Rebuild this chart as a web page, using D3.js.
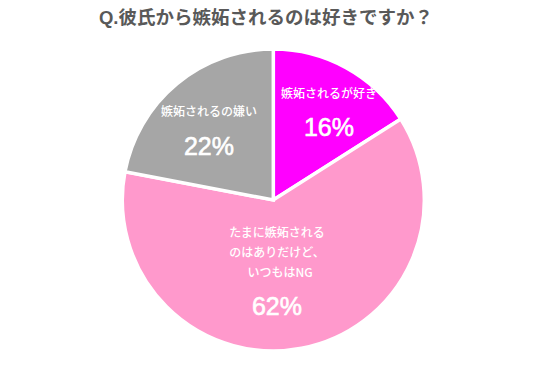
<!DOCTYPE html>
<html><head><meta charset="utf-8">
<script src="https://cdn.jsdelivr.net/npm/d3@7"></script>
<style>body{margin:0;background:#fff;}svg{display:block;font-family:"Noto Sans CJK JP","Noto Sans",sans-serif;}</style>
</head><body>
<svg id="c" width="555" height="382"></svg>
<script>
const title = "Q.彼氏から嫉妬されるのは好きですか？";
const categories = ["嫉妬されるが好き", "たまに嫉妬される|のはありだけど、| いつもはNG", "嫉妬されるの嫌い"];
const values = [16, 62, 22];
const colors = ["#FF00FF", "#FF99CC", "#A6A6A6"];

const svg = d3.select("#c");
const cx = 273.3, cy = 200, R = 151;

svg.append("text").attr("x", 266).attr("y", 24).attr("text-anchor", "middle")
  .style("font-family", '"Liberation Sans","Noto Sans CJK JP",sans-serif')
  .attr("font-size", 18.5).attr("font-weight", "bold").attr("fill", "#595959").text(title);

const pie = d3.pie().sort(null).value(d => d)(values);
const arc = d3.arc().innerRadius(0).outerRadius(R);
const g = svg.append("g").attr("transform", `translate(${cx},${cy})`);
g.selectAll("path").data(pie).join("path")
  .attr("d", arc).attr("fill", (d, i) => colors[i])
  .attr("stroke", "#fff").attr("stroke-width", 3.5).attr("stroke-linejoin", "miter");

const labelPos = [
  {x: 329, y: 94, py: 127, lh: 0},
  {x: 277, y: 233, py: 306, lh: 20},
  {x: 209, y: 112, py: 146, lh: 0}
];
categories.forEach((c, i) => {
  const p = labelPos[i];
  const lines = c.split("|");
  lines.forEach((ln, j) => {
    svg.append("text").attr("x", p.x).attr("y", p.y + j * p.lh)
      .attr("dy", "0.35em").attr("text-anchor", "middle")
      .attr("font-size", 12).attr("font-weight", 500).attr("fill", "#fff")
      .style("white-space", "pre").text(ln.replace(/^ /, "\u2002"));
  });
  svg.append("text").attr("x", p.x).attr("y", p.py).attr("dy", "0.35em")
    .attr("text-anchor", "middle").attr("font-size", 25)
    .style("font-family", '"Liberation Sans",Arial,sans-serif')
    .attr("stroke", "#fff").attr("stroke-width", 0.6)
    .attr("fill", "#fff").text(values[i] + "%");
});
</script>
</body></html>
